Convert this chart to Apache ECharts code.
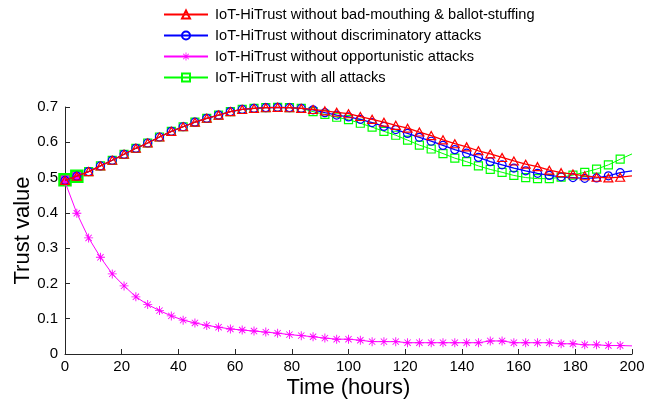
<!DOCTYPE html>
<html>
<head>
<meta charset="utf-8">
<script src="https://cdn.jsdelivr.net/npm/echarts@6/dist/echarts.min.js"></script>
<style>
html,body{margin:0;padding:0;background:#fff;}
#chart{width:647px;height:404px;}
</style>
</head>
<body>
<div id="chart"></div>
<script>
// Time (hours) of each sample; markers on every sample except the final one at 200
const timeHours = [0, 4.17, 8.33, 12.5, 16.67, 20.83, 25, 29.17, 33.33, 37.5, 41.67, 45.83, 50, 54.17, 58.33, 62.5, 66.67, 70.83, 75, 79.17, 83.33, 87.5, 91.67, 95.83, 100, 104.17, 108.33, 112.5, 116.67, 120.83, 125, 129.17, 133.33, 137.5, 141.67, 145.83, 150, 154.17, 158.33, 162.5, 166.67, 170.83, 175, 179.17, 183.33, 187.5, 191.67, 195.83, 200];

const seriesNames = [
  'IoT-HiTrust without bad-mouthing & ballot-stuffing',
  'IoT-HiTrust without discriminatory attacks',
  'IoT-HiTrust without opportunistic attacks',
  'IoT-HiTrust with all attacks'
];

const noBadMouthing = [0.492, 0.504, 0.517, 0.533, 0.549, 0.566, 0.583, 0.598, 0.615, 0.631, 0.644, 0.657, 0.668, 0.677, 0.687, 0.693, 0.696, 0.698, 0.699, 0.698, 0.696,
  0.693, 0.689, 0.685, 0.681, 0.673, 0.665, 0.657, 0.648, 0.640, 0.629, 0.619, 0.607, 0.596, 0.587, 0.576, 0.567, 0.557, 0.547, 0.538, 0.531, 0.521, 0.514, 0.510, 0.505, 0.501, 0.499, 0.501, 0.505];

const noDiscriminatory = [0.492, 0.504, 0.517, 0.533, 0.549, 0.566, 0.583, 0.598, 0.615, 0.631, 0.644, 0.657, 0.668, 0.677, 0.687, 0.693, 0.696, 0.698, 0.699, 0.698, 0.696,
  0.692, 0.684, 0.677, 0.672, 0.665, 0.656, 0.645, 0.636, 0.625, 0.614, 0.603, 0.591, 0.579, 0.569, 0.557, 0.545, 0.536, 0.527, 0.519, 0.512, 0.506, 0.502, 0.500, 0.498, 0.499, 0.505, 0.514, 0.519];

const noOpportunistic = [0.488, 0.399, 0.329, 0.274, 0.227, 0.193, 0.162, 0.140, 0.123, 0.108,
  0.096, 0.088, 0.081, 0.076, 0.071, 0.068, 0.065, 0.062, 0.059, 0.055,
  0.052, 0.049, 0.045, 0.042, 0.042, 0.039, 0.035, 0.035, 0.035, 0.032,
  0.032, 0.032, 0.032, 0.032, 0.032, 0.032, 0.037, 0.037, 0.032, 0.032,
  0.032, 0.032, 0.029, 0.029, 0.026, 0.026, 0.024, 0.024, 0.023];

const allAttacks = [0.494, 0.504, 0.517, 0.533, 0.549, 0.566, 0.583, 0.598, 0.615, 0.631, 0.644, 0.657, 0.668, 0.677, 0.687, 0.693, 0.696, 0.698, 0.699, 0.698, 0.696,
  0.687, 0.679, 0.671, 0.664, 0.654, 0.643, 0.631, 0.620, 0.606, 0.592, 0.581, 0.568, 0.555, 0.545, 0.533, 0.523, 0.515, 0.506, 0.500, 0.497, 0.497, 0.501, 0.507, 0.515, 0.524, 0.536, 0.552, 0.567];

const xTicks = [0, 20, 40, 60, 80, 100, 120, 140, 160, 180, 200];
const yTicks = [0, 0.1, 0.2, 0.3, 0.4, 0.5, 0.6, 0.7];

const FONT = '"Liberation Sans", Arial, Helvetica, sans-serif';
const STAR = 'path://M9 0 L11 0 L11 20 L9 20 Z M0 9 L20 9 L20 11 L0 11 Z M2.3 3.7 L3.7 2.3 L17.7 16.3 L16.3 17.7 Z M16.3 2.3 L17.7 3.7 L3.7 17.7 L2.3 16.3 Z';

function build(vals, extra) {
  return timeHours.map((t, i) => {
    const item = { value: [t, vals[i]] };
    if (i === timeHours.length - 1) item.symbol = 'none';
    if (extra) extra(item, i);
    return item;
  });
}

function hollow(color) {
  return { color: 'rgba(255,255,255,0)', borderColor: color, borderWidth: 1.2 };
}

const chart = echarts.init(document.getElementById('chart'), null, { renderer: 'canvas' });
chart.setOption({
  animation: false,
  backgroundColor: '#ffffff',
  grid: { left: 65, right: 15, top: 107, bottom: 50, containLabel: false, outerBoundsMode: 'none' },
  legend: {
    orient: 'vertical',
    left: 163,
    top: 7,
    padding: 0,
    itemWidth: 44,
    itemHeight: 10,
    itemGap: 6,
    textStyle: { fontFamily: FONT, fontSize: 14.6, color: '#000', lineHeight: 14, padding: [0, 0, 0, 2] },
    data: seriesNames
  },
  xAxis: {
    type: 'value',
    min: 0, max: 200, interval: 20,
    name: 'Time (hours)',
    nameLocation: 'middle',
    nameGap: 23,
    nameMoveOverlap: false,
    nameTextStyle: { fontFamily: FONT, fontSize: 22, color: '#000' },
    axisLine: { show: true, onZero: false, lineStyle: { color: '#262626', width: 1 } },
    axisTick: { show: true, inside: true, length: 5, lineStyle: { color: '#262626' } },
    axisLabel: { fontFamily: FONT, fontSize: 15, color: '#000', margin: 5,
      formatter: v => xTicks.includes(v) ? String(v) : '' },
    splitLine: { show: false }
  },
  yAxis: {
    type: 'value',
    min: 0, max: 0.7, interval: 0.1,
    name: 'Trust value',
    nameLocation: 'middle',
    nameGap: 31,
    nameMoveOverlap: false,
    nameTextStyle: { fontFamily: FONT, fontSize: 22, color: '#000' },
    axisLine: { show: true, lineStyle: { color: '#262626', width: 1 } },
    axisTick: { show: true, inside: true, length: 5, lineStyle: { color: '#262626' } },
    axisLabel: { fontFamily: FONT, fontSize: 15, color: '#000', margin: 7,
      formatter: v => { const m = yTicks.find(t => Math.abs(t - v) < 1e-9); return m === undefined ? '' : String(m); } },
    splitLine: { show: false }
  },
  series: [
    {
      name: seriesNames[0], type: 'line', z: 6,
      symbol: 'triangle', symbolSize: [9, 8],
      lineStyle: { color: '#ff0000', width: 1.3 },
      itemStyle: hollow('#ff0000'),
      data: build(noBadMouthing)
    },
    {
      name: seriesNames[1], type: 'line', z: 5,
      symbol: 'circle', symbolSize: 8,
      lineStyle: { color: '#0000ff', width: 1.3 },
      itemStyle: hollow('#0000ff'),
      data: build(noDiscriminatory)
    },
    {
      name: seriesNames[2], type: 'line', z: 4,
      symbol: STAR, symbolSize: 9,
      lineStyle: { color: '#ff00ff', width: 1 },
      itemStyle: { color: '#ff00ff' },
      data: build(noOpportunistic)
    },
    {
      name: seriesNames[3], type: 'line', z: 3,
      symbol: 'rect', symbolSize: 8,
      lineStyle: { color: '#00ff00', width: 1 },
      itemStyle: hollow('#00ff00'),
      data: build(allAttacks, (item, i) => {
        if (i < 2) {
          item.symbolSize = 11;
          item.itemStyle = { color: '#ff00ff', borderColor: '#00ff00', borderWidth: 2.5 };
          item.z = 10;
        }
      })
    }
  ]
});
</script>
</body>
</html>
